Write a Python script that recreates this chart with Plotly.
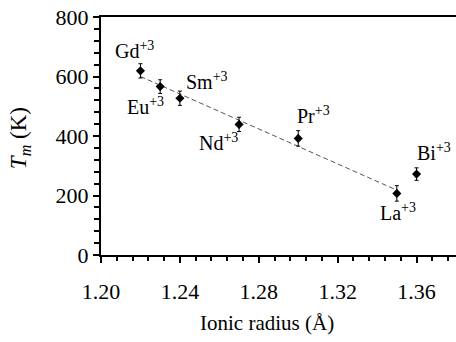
import plotly.graph_objects as go

# ---- data ----
ions = ["Gd", "Eu", "Sm", "Nd", "Pr", "La", "Bi"]
radius = [1.22, 1.23, 1.24, 1.27, 1.30, 1.35, 1.36]
tm = [619, 566, 527, 439, 392, 207, 272]
tm_err = [24, 23, 24, 24, 26, 26, 21]
charge = "+3"

fit_x = [1.22, 1.35]
fit_y = [600, 218]

x_ticks = [1.20, 1.24, 1.28, 1.32, 1.36]
y_ticks = [0, 200, 400, 600, 800]

# ---- styling ----
FONT = "Liberation Serif"
label_shift = {  # pixel offsets of each label from its point
    "Gd": (-6, 21), "Eu": (-15, -19), "Sm": (27, 17), "Nd": (-21, -18),
    "Pr": (15, 23), "La": (1, -19), "Bi": (17, 22),
}

fig = go.Figure()
fig.add_trace(go.Scatter(
    x=fit_x, y=fit_y, mode="lines",
    line=dict(color="#555555", width=1, dash="5px,3px"),
    showlegend=False, hoverinfo="skip"))
fig.add_trace(go.Scatter(
    x=radius, y=tm, mode="markers",
    marker=dict(symbol="diamond", size=7, color="black"),
    error_y=dict(type="data", array=tm_err, visible=True,
                 color="black", thickness=1, width=2),
    showlegend=False))

for name, xv, yv in zip(ions, radius, tm):
    dx, dy = label_shift[name]
    fig.add_annotation(x=xv, y=yv, xref="x", yref="y",
                       text=f"{name}<sup>{charge}</sup>", showarrow=False,
                       xshift=dx, yshift=dy,
                       font=dict(family=FONT, size=20, color="black"))

fig.add_annotation(x=0.468, y=-0.285, xref="paper", yref="paper",
                   text="Ionic radius (Å)", showarrow=False,
                   xanchor="center", yanchor="middle",
                   font=dict(family=FONT, size=21, color="black"))
fig.add_annotation(x=-0.226, y=0.49, xref="paper", yref="paper",
                   text="<i>T<sub>m</sub></i> (K)", showarrow=False,
                   textangle=-90, xanchor="center", yanchor="middle",
                   font=dict(family=FONT, size=23, color="black"))

axis_common = dict(showgrid=False, zeroline=False, showline=True,
                   linecolor="black", linewidth=2, ticks="outside",
                   tickcolor="black", tickwidth=1.5,
                   tickfont=dict(family=FONT, size=22, color="black"))

fig.update_xaxes(range=[1.20, 1.38], tickvals=x_ticks,
                 ticktext=[f"{v:.2f}" for v in x_ticks],
                 ticklen=6, mirror=True, ticklabelstandoff=10,
                 minor=dict(dtick=0.008, tick0=1.20, ticks="outside",
                            ticklen=4, tickcolor="black", tickwidth=1.5),
                 **axis_common)
fig.update_yaxes(range=[0, 800], tickvals=y_ticks, ticklen=6,
                 minor=dict(dtick=40, tick0=0, ticks="outside",
                            ticklen=5, tickcolor="black", tickwidth=1.5),
                 **axis_common)

fig.update_layout(width=456, height=342,
                  margin=dict(l=101, r=0, t=17, b=87),
                  plot_bgcolor="white", paper_bgcolor="white",
                  font=dict(family=FONT, color="black"))

fig.write_html("out.html")
